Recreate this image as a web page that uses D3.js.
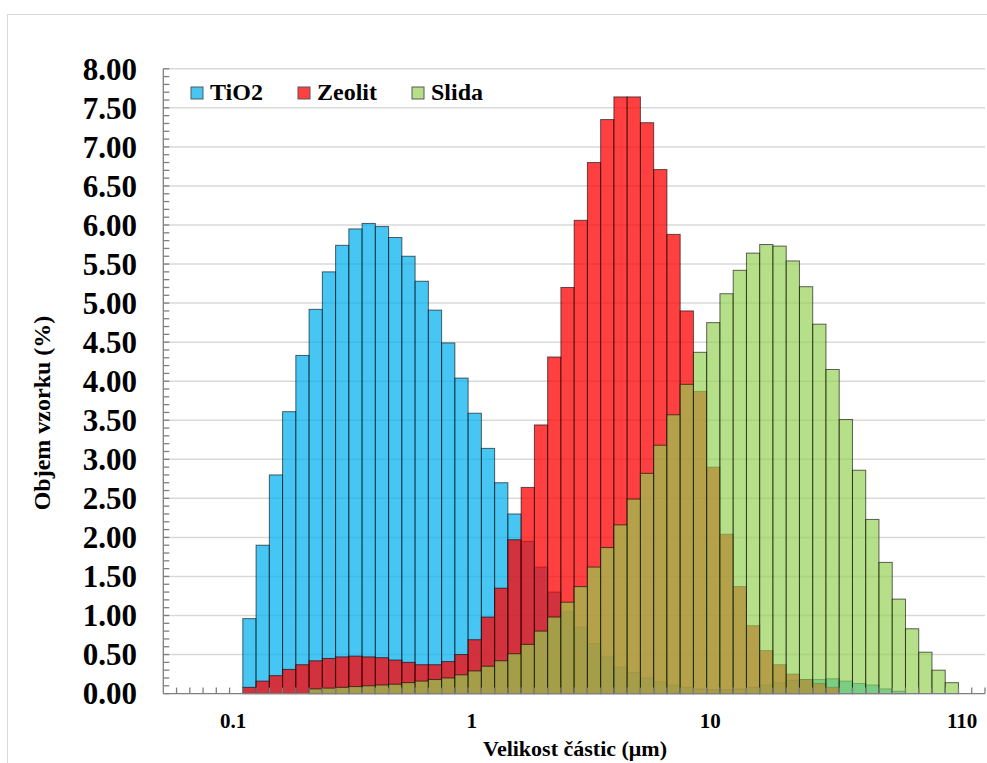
<!DOCTYPE html>
<html>
<head>
<meta charset="utf-8">
<script src="https://cdn.jsdelivr.net/npm/d3@7"></script>
<style>
  body { margin: 0; background: #fff; }
  svg { display: block; font-family: 'Liberation Serif', 'Times New Roman', serif; font-weight: bold; }
  .grid line { stroke: #d9d9d9; stroke-width: 1.5; }
  .axis path, .axis line { stroke: #7f7f7f; stroke-width: 1.3; }
</style>
</head>
<body>
<svg width="987" height="763"></svg>
<script>
// size classes (um), one per bar
const sizes = [0.0526, 0.0597, 0.0679, 0.0771, 0.0876, 0.0995, 0.113, 0.128, 0.146, 0.166,
  0.188, 0.214, 0.243, 0.276, 0.314, 0.357, 0.405, 0.46, 0.523, 0.594,
  0.675, 0.767, 0.872, 0.991, 1.13, 1.28, 1.45, 1.65, 1.88, 2.13,
  2.42, 2.75, 3.12, 3.55, 4.03, 4.58, 5.21, 5.92, 6.72, 7.64,
  8.68, 9.86, 11.2, 12.7, 14.5, 16.4, 18.7, 21.2, 24.1, 27.4,
  31.1, 35.3, 40.1, 45.6, 51.8, 58.9, 66.9, 76, 86.4, 98.1,
  111, 127];

// volume (%) per size class
const tio2 = [0, 0, 0, 0, 0, 0, 0.96, 1.90, 2.80, 3.61,
  4.33, 4.92, 5.40, 5.74, 5.95, 6.02, 5.98, 5.84, 5.60, 5.28,
  4.91, 4.49, 4.04, 3.59, 3.14, 2.70, 2.30, 1.95, 1.62, 1.30,
  1.05, 0.85, 0.64, 0.47, 0.34, 0.27, 0.20, 0.15, 0.11, 0.08,
  0.06, 0.05, 0.05, 0.06, 0.08, 0.11, 0.14, 0.17, 0.18, 0.18,
  0.19, 0.16, 0.13, 0.11, 0.06, 0.03, 0, 0, 0, 0,
  0, 0];
const zeolit = [0, 0, 0, 0, 0, 0, 0.08, 0.16, 0.23, 0.31,
  0.37, 0.42, 0.45, 0.47, 0.48, 0.47, 0.46, 0.43, 0.40, 0.37,
  0.37, 0.41, 0.50, 0.69, 0.98, 1.35, 1.97, 2.64, 3.44, 4.31,
  5.20, 6.06, 6.80, 7.35, 7.64, 7.64, 7.31, 6.71, 5.88, 4.90,
  3.87, 2.90, 2.04, 1.37, 0.87, 0.55, 0.37, 0.25, 0.18, 0.13,
  0.08, 0, 0, 0, 0, 0, 0, 0, 0, 0,
  0, 0];
const slida = [0, 0, 0, 0, 0, 0, 0, 0, 0, 0,
  0, 0.06, 0.07, 0.08, 0.09, 0.10, 0.11, 0.12, 0.14, 0.16,
  0.18, 0.20, 0.24, 0.29, 0.35, 0.42, 0.51, 0.63, 0.80, 0.98,
  1.17, 1.37, 1.62, 1.87, 2.16, 2.49, 2.82, 3.18, 3.57, 3.96,
  4.37, 4.75, 5.12, 5.42, 5.64, 5.75, 5.73, 5.54, 5.21, 4.73,
  4.15, 3.51, 2.86, 2.23, 1.68, 1.21, 0.83, 0.53, 0.30, 0.14,
  0, 0];

const seriesNames = ['TiO2', 'Zeolit', 'Slida'];
const tickSizes = [0.0995, 0.991, 9.86, 111];
const tickLabels = ['0.1', '1', '10', '110'];

const colors = ['#00b0f0', '#ff0000', '#92d050'];
const opacities = [0.72, 0.75, 0.68];

const svg = d3.select('svg');
const margin = { left: 163.3, right: 985, top: 68.8, bottom: 693.6 };

// chart area border
svg.append('rect')
  .attr('x', 7.5).attr('y', 14.5)
  .attr('width', 1000).attr('height', 800)
  .attr('fill', 'none').attr('stroke', '#d9d9d9');

const x = d3.scaleBand().domain(sizes).range([margin.left, margin.right]).padding(0);
const y = d3.scaleLinear().domain([0, 8]).range([margin.bottom, margin.top]);

// gridlines
svg.append('g').attr('class', 'grid')
  .selectAll('line').data(y.ticks(16).filter(d => d > 0))
  .enter().append('line')
  .attr('x1', margin.left).attr('x2', margin.right)
  .attr('y1', d => y(d)).attr('y2', d => y(d));

// bars, blue first, green on top
const series = [tio2, zeolit, slida];
series.forEach((vals, i) => {
  svg.append('g')
    .selectAll('rect').data(sizes.map((s, j) => ({ s, v: vals[j] })).filter(d => d.v > 0))
    .enter().append('rect')
    .attr('x', d => x(d.s))
    .attr('width', x.bandwidth())
    .attr('y', d => y(d.v))
    .attr('height', d => y(0) - y(d.v))
    .attr('fill', colors[i])
    .attr('fill-opacity', opacities[i])
    .attr('stroke', '#000')
    .attr('stroke-opacity', 0.6)
    .attr('stroke-width', 1);
});

// y axis
const yAxis = svg.append('g').attr('class', 'axis');
yAxis.append('line')
  .attr('x1', margin.left).attr('x2', margin.left)
  .attr('y1', margin.top).attr('y2', margin.bottom);
yAxis.selectAll('.minor').data(d3.range(0, 81).map(k => k / 10))
  .enter().append('line')
  .attr('x1', margin.left).attr('x2', margin.left + 6)
  .attr('y1', d => y(d)).attr('y2', d => y(d));
yAxis.selectAll('text').data(y.ticks(16))
  .enter().append('text')
  .attr('x', 137)
  .attr('y', d => y(d))
  .attr('dy', '0.35em')
  .attr('text-anchor', 'end')
  .attr('font-size', 31)
  .text(d => d3.format('.2f')(d));

// x axis
const xAxis = svg.append('g').attr('class', 'axis');
xAxis.append('line')
  .attr('x1', margin.left).attr('x2', margin.right)
  .attr('y1', margin.bottom).attr('y2', margin.bottom);
xAxis.selectAll('.tick').data(sizes)
  .enter().append('line')
  .attr('x1', d => x(d) + x.bandwidth()).attr('x2', d => x(d) + x.bandwidth())
  .attr('y1', margin.bottom).attr('y2', margin.bottom - 6);
xAxis.selectAll('text').data(tickSizes)
  .enter().append('text')
  .attr('x', d => x(d) + x.bandwidth() / 2 - 3)
  .attr('y', 728)
  .attr('text-anchor', 'middle')
  .attr('font-size', 21)
  .text((d, i) => tickLabels[i]);

// axis titles
svg.append('text')
  .attr('x', 575).attr('y', 756)
  .attr('text-anchor', 'middle')
  .attr('font-size', 22)
  .text('Velikost částic (μm)');

svg.append('text')
  .attr('transform', 'translate(50,413) rotate(-90)')
  .attr('text-anchor', 'middle')
  .attr('font-size', 24)
  .text('Objem vzorku (%)');

// legend
const legendX = [191, 298, 412];
const legend = svg.append('g');
seriesNames.forEach((name, i) => {
  legend.append('rect')
    .attr('x', legendX[i]).attr('y', 87)
    .attr('width', 12).attr('height', 12)
    .attr('fill', colors[i]).attr('fill-opacity', opacities[i])
    .attr('stroke', '#595959').attr('stroke-width', 1);
  legend.append('text')
    .attr('x', legendX[i] + 19).attr('y', 100)
    .attr('font-size', 24)
    .text(name);
});
</script>
</body>
</html>
